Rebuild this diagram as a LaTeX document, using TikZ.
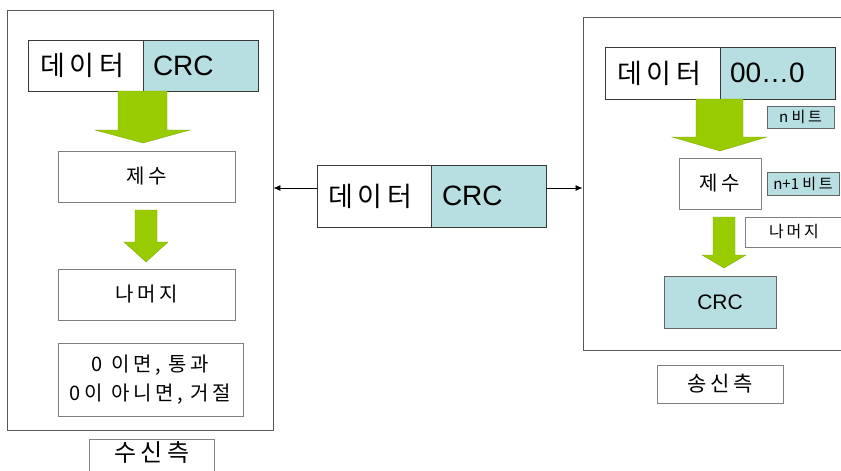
\documentclass[tikz,border=0pt]{standalone}
\usepackage{fontspec}
\setmainfont{Liberation Sans}
\newfontfamily\kr[LetterSpace=18]{Noto Sans CJK KR}
\newfontfamily\krn{Noto Sans CJK KR}
\usetikzlibrary{arrows.meta}
\definecolor{crcblue}{RGB}{183,222,225}
\definecolor{agreen}{RGB}{153,204,0}
\tikzset{
  frame/.style={draw=black!65, line width=0.9pt, fill=white, inner sep=0pt},
  cellw/.style={draw=black!78, line width=1pt, fill=white, inner ysep=0pt, align=left},
  cellb/.style={cellw, fill=crcblue},
  sbox/.style={draw=black!50, line width=0.8pt, fill=white, inner sep=0pt, align=center},
  tag/.style={draw=black!60, line width=0.8pt, fill=crcblue, inner sep=0pt, align=center},
  big/.style={font=\fontsize{28}{30}\selectfont},
  bigk/.style={font=\kr\fontsize{27}{30}\selectfont},
  mid/.style={font=\kr\fontsize{20}{29}\selectfont},
  small/.style={font=\kr\fontsize{15}{17}\selectfont},
  blockarrow/.style={fill=agreen, draw=agreen!80!black, line width=0.3pt},
  link/.style={draw=black, line width=0.8pt, -{Latex[length=7pt,width=6pt]}}
}
\begin{document}
\begin{tikzpicture}[x=1pt,y=-1pt]
\useasboundingbox (0,0) rectangle (841,471);
\clip (0,0) rectangle (841,471);

% frames
\node[frame, minimum width=266pt, minimum height=420pt] (lframe) at (140,220) {};
\node[frame, minimum width=280pt, minimum height=333pt] (rframe) at (723,183.5) {};

% left data box
\node[cellw, bigk, minimum width=115pt, minimum height=51pt, inner xsep=12pt, text width=91pt] (ldata) at (85.5,65.5) {데이터};
\node[cellb, big, minimum width=115pt, minimum height=51pt, inner xsep=10pt, text width=95pt] (lcrc) at (200.5,65.5) {CRC};

% left inner boxes
\node[sbox, mid, minimum width=177pt, minimum height=51pt] (ljesu) at (146.5,176.5) {제수};
\node[sbox, mid, minimum width=177pt, minimum height=51pt] (lrem) at (146.5,294.5) {나머지};
\node[sbox, mid, minimum width=185pt, minimum height=73pt] (lres) at (150.5,379.5) {0 이면, 통과\\0이 아니면, 거절};
\node[sbox, font=\kr\fontsize{24}{26}\selectfont, minimum width=125pt, anchor=north, text height=22pt, text depth=40pt] (lab1) at (152,439) {수신측};

% left block arrows
\path[blockarrow] (118,91) -- (167,91) -- (167,130) -- (190,130) -- (143,143) -- (95,130) -- (118,130) -- cycle;
\path[blockarrow] (135,210) -- (157,210) -- (157,242) -- (168,242) -- (146,262) -- (124,242) -- (135,242) -- cycle;

% middle packet
\node[cellw, bigk, minimum width=114pt, minimum height=62pt, inner xsep=11pt, text width=92pt] (mdata) at (374,196) {데이터};
\node[cellb, big, minimum width=115pt, minimum height=62pt, inner xsep=11pt, text width=93pt] (mcrc) at (488.5,196) {CRC};
\coordinate (mL) at (317,188);
\coordinate (mR) at (546,188);
\draw[link] (mL) -- (mL -| lframe.east);
\draw[link] (mR) -- (mR -| rframe.west);

% right data box
\node[cellw, bigk, minimum width=115pt, minimum height=52pt, inner xsep=12pt, text width=91pt] (rdata) at (662.5,73) {데이터};
\node[cellb, big, minimum width=115pt, minimum height=52pt, inner xsep=10pt, text width=95pt] (rzero) at (777.5,73) {00…0};

\node[tag, small, minimum width=67pt, minimum height=22pt] (nbit) at (800.5,117) {{\krn n }비트};
\node[sbox, mid, minimum width=82pt, minimum height=51pt] (rjesu) at (720,183.5) {제수};
\node[tag, small, minimum width=72pt, minimum height=23pt] (n1bit) at (803,183.5) {{\krn n+1 }비트};
\node[sbox, font=\kr\fontsize{16}{18}\selectfont, minimum width=98pt, minimum height=30pt] (rrem) at (794,232) {나머지};
\node[tag, font=\fontsize{21}{24}\selectfont, minimum width=112pt, minimum height=52pt] (rcrc) at (720,302) {CRC};
\node[sbox, font=\kr\fontsize{21}{24}\selectfont, minimum width=126pt, minimum height=38pt] (lab2) at (720,384) {송신측};

% right block arrows
\path[blockarrow] (696,99) -- (743,99) -- (743,137) -- (767,137) -- (720,151) -- (672,137) -- (696,137) -- cycle;
\path[blockarrow] (713,217) -- (735,217) -- (735,255) -- (746,255) -- (724,268) -- (702,255) -- (713,255) -- cycle;
\end{tikzpicture}
\end{document}
